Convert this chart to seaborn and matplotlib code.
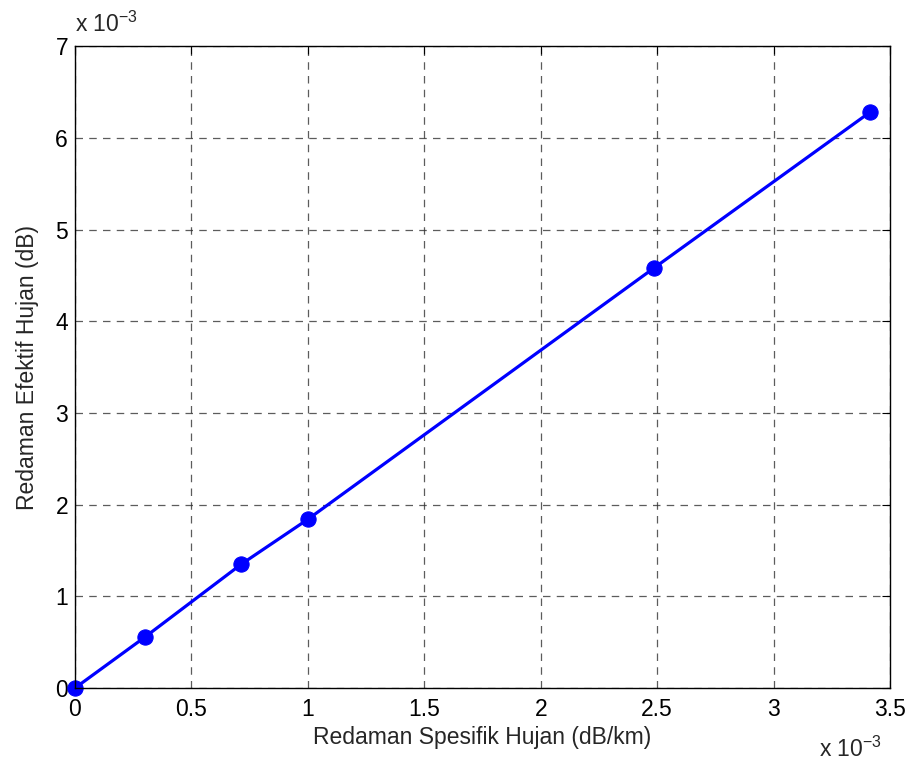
import matplotlib
matplotlib.use("Agg")
import matplotlib.pyplot as plt
import matplotlib.ticker as mticker
import seaborn as sns
import pandas as pd

# Specific rain attenuation (dB/km) and effective rain attenuation (dB)
redaman_spesifik = [0.0, 0.300e-3, 0.714e-3, 1.000e-3, 2.486e-3, 3.414e-3]
redaman_efektif = [0.0, 0.555e-3, 1.350e-3, 1.840e-3, 4.580e-3, 6.280e-3]

x_ticks = [0, 0.5e-3, 1.0e-3, 1.5e-3, 2.0e-3, 2.5e-3, 3.0e-3, 3.5e-3]
y_ticks = [0, 1e-3, 2e-3, 3e-3, 4e-3, 5e-3, 6e-3, 7e-3]

df = pd.DataFrame({"x": redaman_spesifik, "y": redaman_efektif})

sns.set_style("white")
plt.rcParams["font.family"] = ["Liberation Sans", "DejaVu Sans"]
FS = 16.5

fig = plt.figure(figsize=(9.11, 7.69), dpi=100)
ax = fig.add_axes([0.0823, 0.1053, 0.8947, 0.8347])

sns.lineplot(data=df, x="x", y="y", ax=ax, color="#0000ff", linewidth=2.3,
             marker="o", markersize=11, markeredgecolor="#0000ff", clip_on=False)

ax.set_xlim(0, 3.5e-3)
ax.set_ylim(0, 7e-3)
ax.set_xticks(x_ticks)
ax.set_yticks(y_ticks)
fmt = mticker.FuncFormatter(lambda v, p: f"{v / 1e-3:g}")
ax.xaxis.set_major_formatter(fmt)
ax.yaxis.set_major_formatter(fmt)

ax.grid(True, color="#333333", linestyle=(0, (6, 5)), linewidth=0.9, alpha=0.8)
ax.tick_params(direction="in", length=6, width=0.8, top=True, right=True,
               labelsize=FS, colors="black")
ax.tick_params(axis="x", pad=7)
ax.tick_params(axis="y", pad=5)
for s in ax.spines.values():
    s.set_color("black")
    s.set_linewidth(1.0)

ax.set_xlabel("Redaman Spesifik Hujan (dB/km)", fontsize=FS, labelpad=4)
ax.set_ylabel("Redaman Efektif Hujan (dB)", fontsize=FS, labelpad=12)

ax.text(0.0, 1.014, r"x 10$^{\mathregular{-3}}$", transform=ax.transAxes,
        fontsize=FS, ha="left", va="bottom")
ax.text(0.99, -0.076, r"x 10$^{\mathregular{-3}}$", transform=ax.transAxes,
        fontsize=FS, ha="right", va="top")

fig.savefig("out.png", dpi=100, facecolor="white")
